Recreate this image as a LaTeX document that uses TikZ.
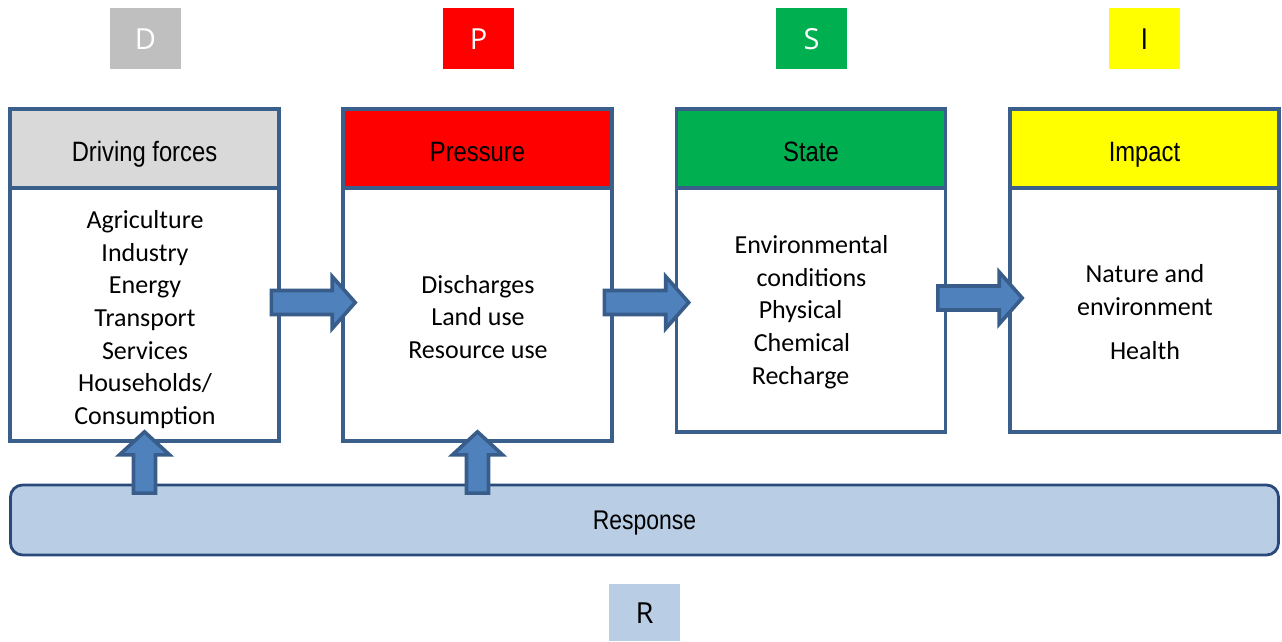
\documentclass[tikz,border=0pt]{standalone}
\usepackage{fontspec}
\setmainfont{Carlito}
\newfontfamily\narrowfont[FakeStretch=0.85]{Liberation Sans}
\newfontfamily\letterfont{Open Sans}
\usetikzlibrary{calc}
\definecolor{boxline}{HTML}{3A5F8B}
\definecolor{arrowfill}{HTML}{4F81BD}
\definecolor{arrowline}{HTML}{385D8A}
\definecolor{respfill}{HTML}{B9CDE5}
\definecolor{respline}{HTML}{29497A}
\definecolor{hdrgray}{HTML}{D9D9D9}
\definecolor{lettergray}{HTML}{BFBFBF}
\definecolor{dpsirred}{HTML}{FF0000}
\definecolor{dpsirgreen}{HTML}{00B050}
\definecolor{dpsiryellow}{HTML}{FFFF00}
\newcommand\harrow[2]{%
  \coordinate (hs) at ($(#1.east)+(-9.5,-12)$);
  \coordinate (htt) at ($(#2.west)+(14,0)$);
  \coordinate (ht) at (htt |- hs);
  \draw[barrow] ($(hs)+(0,-12)$) -- ($(ht)+(-23,-12)$) -- ($(ht)+(-23,-26)$) -- (ht)
    -- ($(ht)+(-23,26)$) -- ($(ht)+(-23,12)$) -- ($(hs)+(0,12)$) -- cycle;}
\newcommand\uarrow[2]{%
  \coordinate (ut) at ($(#1.south)+(0,-11)$);
  \coordinate (ub) at (ut |- #2.north);
  \draw[barrow] ($(ub)+(-11,9.5)$) -- ($(ut)+(-11,23)$) -- ($(ut)+(-25,23)$) -- (ut)
    -- ($(ut)+(25,23)$) -- ($(ut)+(11,23)$) -- ($(ub)+(11,9.5)$) -- cycle;}
\begin{document}
\begin{tikzpicture}[x=1pt,y=-1pt,
  hdr/.style={draw=boxline, line width=3.6pt, minimum width=269pt, minimum height=79pt,
    inner sep=0pt, text height=26pt, text depth=0pt,
    font=\narrowfont\fontsize{28}{32}\selectfont},
  bodybox/.style={draw=boxline, line width=3.6pt, minimum width=269pt, inner sep=0pt, fill=white},
  bodytext/.style={align=center, inner sep=0pt, font=\fontsize{26}{32.7}\selectfont},
  letter/.style={minimum width=71pt, minimum height=61pt, inner sep=0pt,
    text height=21pt, text depth=0pt, font=\letterfont\fontsize{29}{30}\selectfont},
  barrow/.style={fill=arrowfill, draw=arrowline, line width=3.6pt, line join=miter}]
\useasboundingbox (0,0) rectangle (1282,641);
% letter boxes
\node[letter, fill=lettergray, text=white] (ld) at (145.5,38.5) {D};
\node[letter, fill=dpsirred, text=white] (lp) at (478.5,38.5) {P};
\node[letter, fill=dpsirgreen, text=white] (ls) at (811.5,38.5) {S};
\node[letter, fill=dpsiryellow, text=black] (li) at (1144.5,38.5) {I};
\node[letter, fill=respfill, text=black, minimum height=57pt] (lr) at (644.5,612.5) {R};
% response bar
\node[draw=respline, fill=respfill, line width=2.8pt, rounded corners=12pt,
  minimum width=1268pt, minimum height=70pt, inner sep=0pt,
  text height=19.3pt, text depth=0pt,
  font=\narrowfont\fontsize{27}{30}\selectfont] (resp) at (644.5,520) {Response};
% boxes
\node[bodybox, minimum height=253pt] (db) at (144.5,314.5) {};
\node[hdr, fill=hdrgray] (dh) at (144.5,148.5) {Driving forces};
\node[bodybox, minimum height=253pt] (pb) at (477.5,314.5) {};
\node[hdr, fill=dpsirred] (ph) at (477.5,148.5) {Pressure};
\node[bodybox, minimum height=244pt] (sb) at (811,310) {};
\node[hdr, fill=dpsirgreen] (sh) at (811,148.5) {State};
\node[bodybox, minimum height=244pt] (ib) at (1144.5,310) {};
\node[hdr, fill=dpsiryellow] (ih) at (1144.5,148.5) {Impact};
% body texts
\node[bodytext] (dt) at (145,319.5) {Agriculture\\Industry\\Energy\\Transport\\Services\\Households/\\Consumption};
\node[bodytext] (pt) at (478,317) {Discharges\\Land use\\Resource use};
\node[bodytext] (st) at (811.5,312) {Environmental\\conditions\\Physical\kern22pt\\Chemical\kern19pt\\Recharge\kern22pt};
\node[bodytext] (it) at (1145,312) {Nature and\\environment\\[11pt]Health};
% arrows
\harrow{db}{pb}
\harrow{pb}{sb}
\harrow{sb}{ib}
\uarrow{db}{resp}
\uarrow{pb}{resp}
\end{tikzpicture}
\end{document}
